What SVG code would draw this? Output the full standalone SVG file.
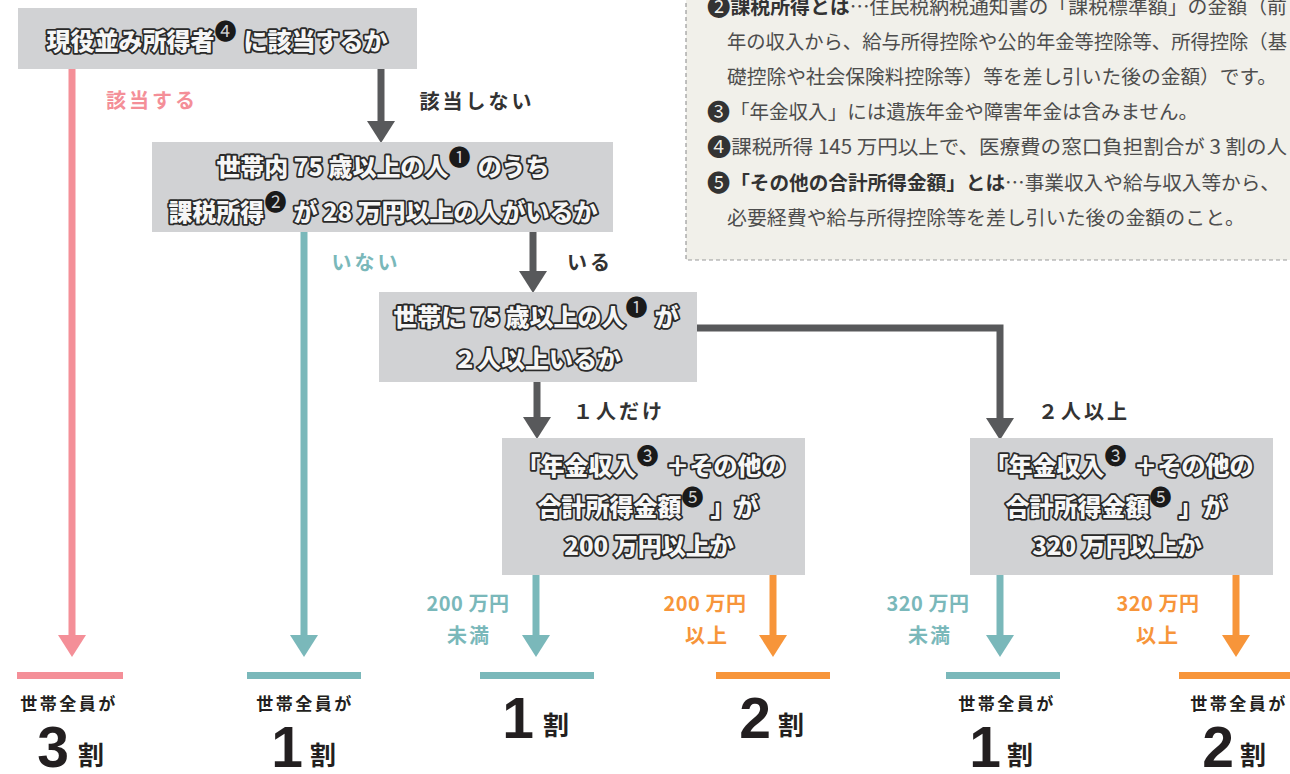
<svg xmlns="http://www.w3.org/2000/svg" width="1290" height="774" viewBox="0 0 1290 774">
<style>
.box{fill:#d1d2d4}
.nt{font-family:"Noto Sans CJK JP","Noto Sans",sans-serif;font-weight:900;font-size:24px;fill:#f6f6f6;stroke:#2a2a2a;stroke-width:3.6px;stroke-linejoin:round;paint-order:stroke fill;text-anchor:middle}
.sup{font-family:"Noto Sans CJK JP",sans-serif;font-weight:400;font-size:22px;fill:#1a1a1a;stroke:none}
.lbl{font-family:"Noto Sans CJK JP","Noto Sans",sans-serif;font-weight:700;font-size:20px;text-anchor:middle;letter-spacing:3px}
.dk{fill:#333333}
.pk{fill:#f48f98}
.tl{fill:#7ab8ba}
.or{fill:#f7953a}
.ls{fill:none;stroke-width:7}
.sdk{stroke:#58595b}
.spk{stroke:#f48f98}
.stl{stroke:#7ab8ba}
.sor{stroke:#f7953a}
.note{font-family:"Noto Sans CJK JP","Noto Sans",sans-serif;font-size:19.5px;fill:#4d4d4d}
.nb{font-weight:700;fill:#333333}
.cd{font-family:"Noto Sans CJK JP",sans-serif;font-size:23px;fill:#333333}
.zen{font-family:"Noto Sans CJK JP","Noto Sans",sans-serif;font-weight:700;font-size:17px;fill:#231f20;text-anchor:middle;letter-spacing:2.5px}
.big{font-family:"Liberation Sans",Arial,sans-serif;font-weight:700;font-size:57px;fill:#231f20;text-anchor:middle}
.wari{font-family:"Noto Sans CJK JP","Noto Sans",sans-serif;font-weight:700;font-size:26px;fill:#231f20;text-anchor:middle}
</style>

<g id="notes">
<rect x="686" y="-4" width="620" height="264" fill="#f1f0ea" stroke="#9a9a9a" stroke-width="1.2" stroke-dasharray="4 3"/>
<text class="note" x="707" y="14" textLength="580" lengthAdjust="spacingAndGlyphs"><tspan class="cd" dy="1">❷</tspan><tspan class="nb" dy="-1">課税所得とは</tspan>…住民税納税通知書の「課税標準額」の金額（前</text>
<text class="note" x="727" y="49" textLength="560" lengthAdjust="spacingAndGlyphs">年の収入から、給与所得控除や公的年金等控除等、所得控除（基</text>
<text class="note" x="727" y="84" textLength="550" lengthAdjust="spacingAndGlyphs">礎控除や社会保険料控除等）等を差し引いた後の金額）です。</text>
<text class="note" x="707" y="119" textLength="491" lengthAdjust="spacingAndGlyphs"><tspan class="cd" dy="1">❸</tspan><tspan dy="-1">「年金収入」には遺族年金や障害年金は含みません。</tspan></text>
<text class="note" x="707" y="154" textLength="580" lengthAdjust="spacingAndGlyphs"><tspan class="cd" dy="1">❹</tspan><tspan dy="-1">課税所得 145 万円以上で、医療費の窓口負担割合が 3 割の人</tspan></text>
<text class="note" x="707" y="190" textLength="573" lengthAdjust="spacingAndGlyphs"><tspan class="cd" dy="1">❺</tspan><tspan class="nb" dy="-1">「その他の合計所得金額」とは</tspan>…事業収入や給与収入等から、</text>
<text class="note" x="727" y="225" textLength="518" lengthAdjust="spacingAndGlyphs">必要経費や給与所得控除等を差し引いた後の金額のこと。</text>
</g>

<g id="connectors">
<path class="ls spk" d="M72 69V637"/>
<polygon class="pk" points="58,635 86,635 72,657"/>
<path class="ls sdk" d="M381 69V122"/>
<polygon fill="#58595b" points="367,121 395,121 381,143"/>
<path class="ls stl" d="M304 232V637"/>
<polygon class="tl" points="290,635 318,635 304,657"/>
<path class="ls sdk" d="M533 232V272"/>
<polygon fill="#58595b" points="519,271 547,271 533,293"/>
<path class="ls sdk" d="M537 382V418"/>
<polygon fill="#58595b" points="523,417 551,417 537,439"/>
<path class="ls sdk" d="M697 328H1000V419"/>
<polygon fill="#58595b" points="986,418 1014,418 1000,440"/>
<path class="ls stl" d="M536 575V637"/>
<polygon class="tl" points="522,635 550,635 536,657"/>
<path class="ls sor" d="M773 575V637"/>
<polygon class="or" points="759,635 787,635 773,657"/>
<path class="ls stl" d="M1000 575V637"/>
<polygon class="tl" points="986,635 1014,635 1000,657"/>
<path class="ls sor" d="M1236 575V637"/>
<polygon class="or" points="1222,635 1250,635 1236,657"/>
<text class="lbl pk" x="152" y="108">該当する</text>
<text class="lbl dk" x="477" y="109">該当しない</text>
<text class="lbl tl" x="366" y="270">いない</text>
<text class="lbl dk" x="590" y="270">いる</text>
<text class="lbl dk" x="619" y="419">１人だけ</text>
<text class="lbl dk" x="1084" y="419">２人以上</text>
<text class="lbl tl" x="468" y="611" style="letter-spacing:0.5px">200 万円</text>
<text class="lbl tl" x="469" y="643" style="letter-spacing:2px">未満</text>
<text class="lbl or" x="705" y="611" style="letter-spacing:0.5px">200 万円</text>
<text class="lbl or" x="707" y="643" style="letter-spacing:2px">以上</text>
<text class="lbl tl" x="928" y="611" style="letter-spacing:0.5px">320 万円</text>
<text class="lbl tl" x="930" y="643" style="letter-spacing:2px">未満</text>
<text class="lbl or" x="1158" y="611" style="letter-spacing:0.5px">320 万円</text>
<text class="lbl or" x="1158" y="643" style="letter-spacing:2px">以上</text>
</g>

<g id="n1">
<rect class="box" x="18" y="8" width="399" height="61"/>
<text class="nt" x="217" y="50">現役並み所得者<tspan class="sup" dy="-11">❹</tspan><tspan dy="11" dx="7">に該当するか</tspan></text>
</g>

<g id="n2">
<rect class="box" x="152" y="142" width="461" height="90"/>
<text class="nt" x="383" y="176">世帯内 75 歳以上の人<tspan class="sup" dy="-11">❶</tspan><tspan dy="11" dx="7">のうち</tspan></text>
<text class="nt" x="383" y="221">課税所得<tspan class="sup" dy="-11">❷</tspan><tspan dy="11" dx="7">が 28 万円以上の人がいるか</tspan></text>
</g>

<g id="n3">
<rect class="box" x="379" y="292" width="318" height="90"/>
<text class="nt" x="536" y="326">世帯に 75 歳以上の人<tspan class="sup" dy="-11">❶</tspan><tspan dy="11" dx="7">が</tspan></text>
<text class="nt" x="537" y="368">２人以上いるか</text>
</g>

<g id="n4">
<rect class="box" x="502" y="438" width="303" height="137"/>
<text class="nt" x="651" y="475">「年金収入<tspan class="sup" dy="-11">❸</tspan><tspan dy="11" dx="7">＋その他の</tspan></text>
<text class="nt" x="648" y="516">合計所得金額<tspan class="sup" dy="-11">❺</tspan><tspan dy="11" dx="7">」が</tspan></text>
<text class="nt" x="649" y="555">200 万円以上か</text>
</g>

<g id="n5">
<rect class="box" x="970" y="438" width="303" height="137"/>
<text class="nt" x="1119" y="475">「年金収入<tspan class="sup" dy="-11">❸</tspan><tspan dy="11" dx="7">＋その他の</tspan></text>
<text class="nt" x="1116" y="516">合計所得金額<tspan class="sup" dy="-11">❺</tspan><tspan dy="11" dx="7">」が</tspan></text>
<text class="nt" x="1117" y="555">320 万円以上か</text>
</g>

<g id="r1">
<rect class="pk" x="17" y="672" width="106" height="7"/>
<text class="zen" x="69" y="710">世帯全員が</text>
<text class="big" x="53" y="767">3</text>
<text class="wari" x="91" y="765">割</text>
</g>
<g id="r2">
<rect class="tl" x="247" y="672" width="114" height="7"/>
<text class="zen" x="305" y="710">世帯全員が</text>
<text class="big" x="287" y="767">1</text>
<text class="wari" x="323" y="765">割</text>
</g>
<g id="r3">
<rect class="tl" x="480" y="672" width="114" height="7"/>
<text class="big" x="518" y="738">1</text>
<text class="wari" x="556" y="735">割</text>
</g>
<g id="r4">
<rect class="or" x="716" y="672" width="114" height="7"/>
<text class="big" x="755" y="738">2</text>
<text class="wari" x="791" y="735">割</text>
</g>
<g id="r5">
<rect class="tl" x="946" y="672" width="114" height="7"/>
<text class="zen" x="1007" y="710">世帯全員が</text>
<text class="big" x="985" y="767">1</text>
<text class="wari" x="1020" y="765">割</text>
</g>
<g id="r6">
<rect class="or" x="1179" y="672" width="114" height="7"/>
<text class="zen" x="1239" y="710">世帯全員が</text>
<text class="big" x="1218" y="767">2</text>
<text class="wari" x="1253" y="765">割</text>
</g>
</svg>
